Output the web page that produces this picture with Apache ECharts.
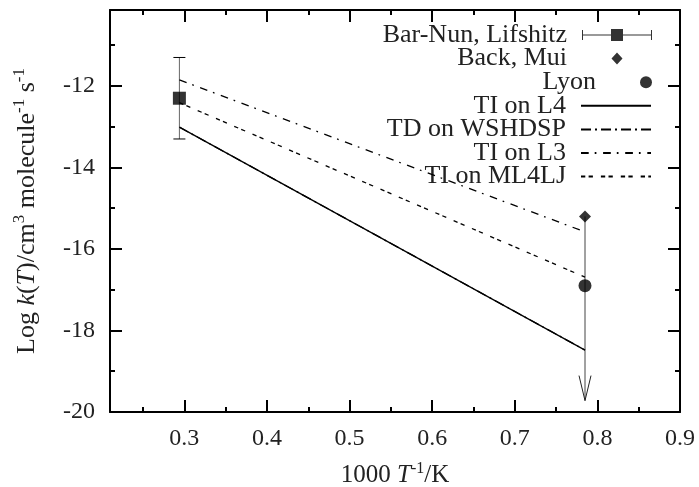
<!DOCTYPE html>
<html>
<head>
<meta charset="utf-8">
<script src="https://cdn.jsdelivr.net/npm/echarts@6/dist/echarts.min.js"></script>
<style>
  html, body { margin: 0; padding: 0; background: #fff; }
  #chart { width: 699px; height: 487px; }
</style>
</head>
<body>
<div id="chart"></div>
<script>
  const FONT = 'Liberation Serif'

  // 测量点
  const barNun = [[0.294, -12.3]]
  const barNunErr = [[0.294, -13.3, -11.3]] // x, 下限, 上限
  const backMui = [[0.785, -15.2]]
  const backMuiLimit = [[0.785, -15.2, -19.72]] // 上限箭头
  const lyon = [[0.785, -16.9]]

  // 理论线
  const tiL4 = [[0.294, -13.01], [0.785, -18.48]]
  const tdWshdsp = [[0.294, -13.01], [0.785, -18.48]]
  const tiL3 = [[0.294, -11.85], [0.785, -15.58]]
  const tiMl4lj = [[0.294, -12.41], [0.785, -16.69]]

  // 刻度
  const xMajor = [0.3, 0.4, 0.5, 0.6, 0.7, 0.8, 0.9]
  const xMinor = [0.25, 0.35, 0.45, 0.55, 0.65, 0.75, 0.85]
  const yMajor = [-20, -18, -16, -14, -12]
  const yMinor = [-19, -17, -15, -13, -11]
  const xRange = [0.21, 0.9]
  const yRange = [-20, -10.135]

  const legendNames = ['Bar-Nun, Lifshitz', 'Back, Mui', 'Lyon', 'TI on L4', 'TD on WSHDSP', 'TI on L3', 'TI on ML4LJ']

  const chart = echarts.init(document.getElementById('chart'))

  // 生成坐标轴（主刻度 / 次刻度分别一个轴）
  function makeAxis(pos, range, ticks, len, labels, fmt, margin) {
    return {
      type: 'value',
      position: pos,
      min: range[0],
      max: range[1],
      axisLine: { show: len > 6, onZero: false, lineStyle: { color: '#000', width: 2 } },
      axisTick: {
        show: true,
        inside: true,
        length: len,
        customValues: ticks,
        lineStyle: { color: '#000', width: 2 },
      },
      axisLabel: labels
        ? {
            show: true,
            customValues: ticks,
            formatter: fmt,
            margin: margin,
            fontFamily: FONT,
            fontSize: 24,
            color: '#222',
          }
        : { show: false },
      splitLine: { show: false },
      minorTick: { show: false },
    }
  }

  const xAxes = [
    makeAxis('bottom', xRange, xMajor, 12, true, (v) => v.toFixed(1), 15),
    makeAxis('top', xRange, xMajor, 12, false),
    makeAxis('bottom', xRange, xMinor, 5, false),
    makeAxis('top', xRange, xMinor, 5, false),
  ]
  const yAxes = [
    makeAxis('left', yRange, yMajor, 12, true, (v) => String(v), 15),
    makeAxis('right', yRange, yMajor, 12, false),
    makeAxis('left', yRange, yMinor, 5, false),
    makeAxis('right', yRange, yMinor, 5, false),
  ]

  function richStyle(size, supSize, supRaise) {
    return {
      n: { fontFamily: FONT, fontSize: size, color: '#222', verticalAlign: 'bottom' },
      i: { fontFamily: FONT, fontSize: size, color: '#222', fontStyle: 'italic', verticalAlign: 'bottom' },
      s: { fontFamily: FONT, fontSize: supSize, color: '#222', verticalAlign: 'bottom', padding: [0, 0, supRaise, 0] },
    }
  }

  xAxes[0].name = '{n|1000 }{i|T}{s|-1}{n|/K}'
  xAxes[0].nameLocation = 'middle'
  xAxes[0].nameGap = 49
  xAxes[0].nameTextStyle = { rich: richStyle(25, 16, 11) }

  yAxes[0].name = '{n|Log }{i|k}{n|(}{i|T}{n|)/cm}{s|3}{n| molecule}{s|-1}{n| s}{s|-1}'
  yAxes[0].nameLocation = 'middle'
  yAxes[0].nameGap = 70
  yAxes[0].nameTextStyle = { rich: richStyle(26, 17, 12) }

  // 图例图标：带误差棒的方块、居中的菱形（用零长度子路径撑开包围盒）
  const errIcon = 'path://M0,1H1V5.5H29V0H41V5.5H69V1H70V11H69V6.5H41V12H29V6.5H1V11H0Z'
  const diamondIcon = 'path://M0,6L0.01,6M70,6L69.99,6M35,0L40.5,6L35,12L29.5,6Z'
  const icons = { 'Bar-Nun, Lifshitz': errIcon, 'Back, Mui': diamondIcon, Lyon: 'circle' }

  const legends = legendNames.map((name, i) => ({
    data: [icons[name] ? { name, icon: icons[name] } : { name }],
    orient: 'vertical',
    right: 47,
    top: 33 + 23.6 * i - 11,
    align: 'right',
    padding: 0,
    itemWidth: 70,
    itemHeight: 12,
    selectedMode: false,
    // 线条图例不画中间的小圆点
    itemStyle: icons[name] ? {} : { opacity: 0 },
    textStyle: {
      fontFamily: FONT,
      fontSize: 26,
      color: '#222',
      lineHeight: 22,
      padding: [0, 10, 0, 0],
    },
  }))

  function lineSeries(name, data, type, z) {
    return {
      name,
      type: 'line',
      data,
      symbol: 'none',
      silent: true,
      z,
      lineStyle: { color: '#000', width: 1.3, type: type, cap: 'butt' },
    }
  }

  const option = {
    animation: false,
    grid: { left: 110, right: 19, top: 10, bottom: 75, outerBoundsMode: 'none' },
    xAxis: xAxes,
    yAxis: yAxes,
    legend: legends,
    series: [
      // 误差棒
      {
        type: 'custom',
        data: barNunErr,
        silent: true,
        z: 3,
        renderItem: (params, api) => {
          const lo = api.coord([api.value(0), api.value(1)])
          const hi = api.coord([api.value(0), api.value(2)])
          const cap = 6
          return {
            type: 'group',
            children: [
              { type: 'line', shape: { x1: lo[0], y1: lo[1], x2: hi[0], y2: hi[1] }, style: { stroke: '#666', lineWidth: 1 } },
              { type: 'line', shape: { x1: lo[0] - cap, y1: lo[1], x2: lo[0] + cap, y2: lo[1] }, style: { stroke: '#000', lineWidth: 1 } },
              { type: 'line', shape: { x1: hi[0] - cap, y1: hi[1], x2: hi[0] + cap, y2: hi[1] }, style: { stroke: '#000', lineWidth: 1 } },
            ],
          }
        },
      },
      // 上限箭头
      {
        type: 'custom',
        data: backMuiLimit,
        silent: true,
        z: 3,
        renderItem: (params, api) => {
          const top = api.coord([api.value(0), api.value(1)])
          const tip = api.coord([api.value(0), api.value(2)])
          return {
            type: 'group',
            children: [
              { type: 'line', shape: { x1: top[0], y1: top[1], x2: tip[0], y2: tip[1] }, style: { stroke: '#444', lineWidth: 1 } },
              {
                type: 'polyline',
                shape: { points: [[tip[0] - 6, tip[1] - 25], [tip[0], tip[1]], [tip[0] + 6, tip[1] - 25]] },
                style: { stroke: '#222', lineWidth: 1, fill: null },
              },
            ],
          }
        },
      },
      lineSeries('TD on WSHDSP', tdWshdsp, [10, 4, 2, 4], 2),
      lineSeries('TI on L4', tiL4, 'solid', 4),
      lineSeries('TI on L3', tiL3, [7.7, 6, 1.7, 6.7], 4),
      lineSeries('TI on ML4LJ', tiMl4lj, [4.3, 3.3, 4.3, 8], 4),
      {
        name: 'Bar-Nun, Lifshitz',
        type: 'scatter',
        data: barNun,
        symbol: 'rect',
        symbolSize: 13,
        silent: true,
        z: 5,
        itemStyle: { color: '#000' },
      },
      {
        name: 'Back, Mui',
        type: 'scatter',
        data: backMui,
        symbol: 'diamond',
        symbolSize: 12,
        silent: true,
        z: 5,
        itemStyle: { color: '#000' },
      },
      {
        name: 'Lyon',
        type: 'scatter',
        data: lyon,
        symbol: 'circle',
        symbolSize: 13,
        silent: true,
        z: 5,
        itemStyle: { color: '#000' },
      },
    ],
  }

  chart.setOption(option)
</script>
</body>
</html>
